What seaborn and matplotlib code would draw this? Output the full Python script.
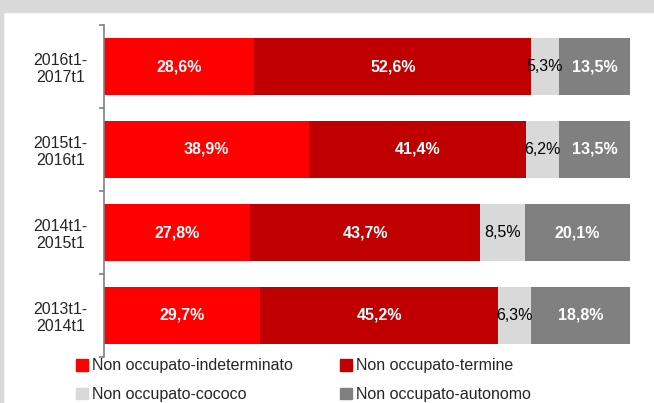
import numpy as np
import pandas as pd
import matplotlib as mpl
import matplotlib.pyplot as plt
from matplotlib.patches import Patch, Rectangle
import seaborn as sns

# data, top to bottom
periods = ['2016t1-\n2017t1', '2015t1-\n2016t1', '2014t1-\n2015t1', '2013t1-\n2014t1']
indeterminato = [28.6, 38.9, 27.8, 29.7]
termine = [52.6, 41.4, 43.7, 45.2]
cococo = [5.3, 6.2, 8.5, 6.3]
autonomo = [13.5, 13.5, 20.1, 18.8]

series = ['Non occupato-indeterminato', 'Non occupato-termine',
          'Non occupato-cococo', 'Non occupato-autonomo']
colors = ['#FF0000', '#C00000', '#D9D9D9', '#808080']
txt_colors = ['white', 'white', 'black', 'white']
txt_weight = ['bold', 'bold', 'normal', 'bold']

sns.set_style('white')
plt.rcParams['font.family'] = ['Liberation Sans Narrow', 'Liberation Sans', 'DejaVu Sans']

df = pd.DataFrame({'period': periods, series[0]: indeterminato, series[1]: termine,
                   series[2]: cococo, series[3]: autonomo})
vals = df[series].to_numpy()
cum = vals.cumsum(axis=1)

fig = plt.figure(figsize=(6.54, 4.03), dpi=100)
# grey frame of the original slide
fig.patches.append(Rectangle((0, 1 - 12 / 403), 1, 12 / 403, transform=fig.transFigure,
                             color='#D9D9D9', zorder=0))
fig.patches.append(Rectangle((0, 0), 3 / 654, 1, transform=fig.transFigure,
                             color='#D9D9D9', zorder=0))

ax = fig.add_axes([104 / 654, 1 - 357 / 403, (630 - 104) / 654, (357 - 25) / 403])

# draw cumulative totals from the back so segments stack
for i in range(len(series) - 1, -1, -1):
    tmp = pd.DataFrame({'period': df['period'], 'val': cum[:, i]})
    sns.barplot(data=tmp, x='val', y='period', orient='h', color=colors[i],
                width=0.69, saturation=1, ax=ax, linewidth=0)

for r in range(len(periods)):
    left = 0
    for i in range(len(series)):
        v = vals[r, i]
        ax.text(left + v / 2, r, f'{v:.1f}%'.replace('.', ','), ha='center', va='center',
                color=txt_colors[i], fontsize=11.5, fontweight=txt_weight[i])
        left += v

ax.set_xlim(0, 100)
ax.set_ylim(3.5, -0.5)
ax.set_xlabel('')
ax.set_ylabel('')
ax.set_xticks([])
for s in ['top', 'right', 'bottom']:
    ax.spines[s].set_visible(False)
ax.spines['left'].set_color('#808080')
ax.spines['left'].set_linewidth(1.2)
ax.tick_params(axis='y', which='major', length=0, pad=12, labelsize=11.5)
for lab in ax.get_yticklabels():
    lab.set_multialignment('center')
ax.set_yticks(np.arange(-0.5, 4, 1), minor=True)
ax.tick_params(axis='y', which='minor', length=3.5, width=1.2, color='#808080', left=True)

# legend filled row by row like the original
handles = [Patch(color=c, label=s) for c, s in zip(colors, series)]
handles = [handles[0], handles[2], handles[1], handles[3]]
fig.legend(handles=handles, ncol=2, loc='upper left', bbox_to_anchor=(70 / 654, 1 - 352 / 403),
           frameon=False, fontsize=11.5, handlelength=0.75, handleheight=0.75,
           handletextpad=0.2, columnspacing=3.0, labelspacing=0.85, borderaxespad=0)

fig.savefig('out.png', dpi=100)
